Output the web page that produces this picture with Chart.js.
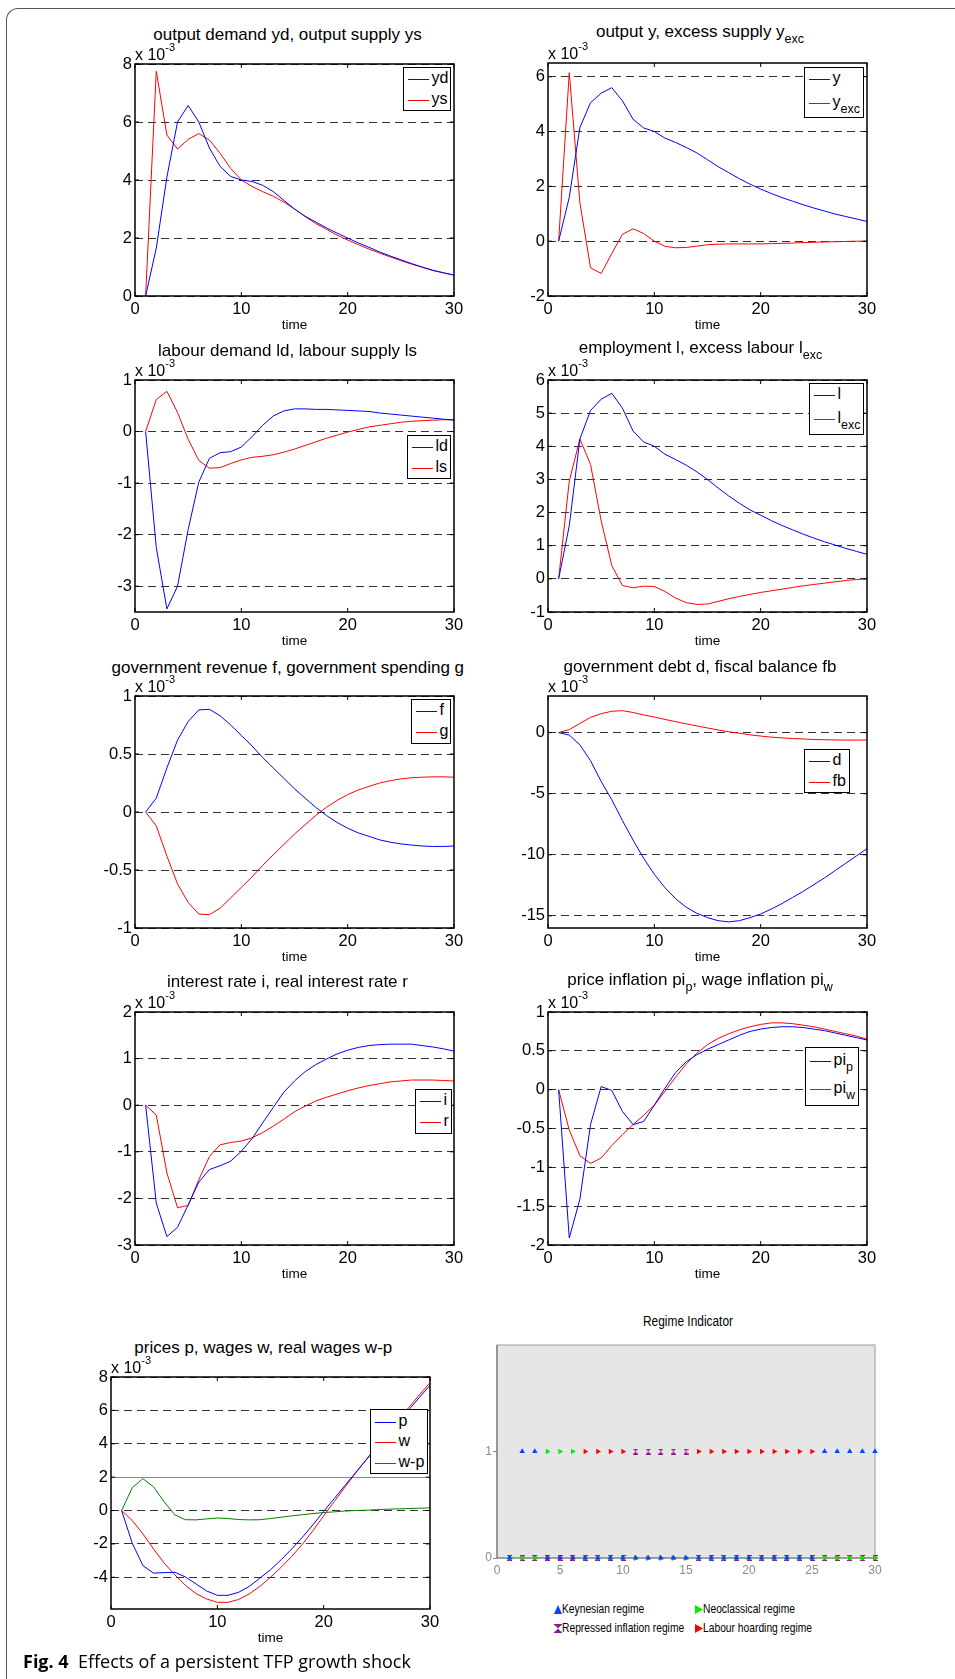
<!DOCTYPE html>
<html><head><meta charset="utf-8">
<script src="https://cdn.jsdelivr.net/npm/chart.js@4.4.0/dist/chart.umd.min.js"></script>
<style>
html,body{margin:0;padding:0;background:#fff;}
body{width:955px;height:1679px;position:relative;overflow:hidden;font-family:"Liberation Sans",Arial,Helvetica,sans-serif;color:#000;}
.frame{position:absolute;left:6px;top:8px;width:1200px;height:2000px;border-left:1.5px solid #555;border-top:1.5px solid #555;border-top-left-radius:12px;}
.t{position:absolute;white-space:nowrap;}
.t sub{font-size:12.5px;vertical-align:-6px;line-height:0;}
.t sup{font-size:11px;vertical-align:9px;line-height:0;}
.lg{position:absolute;background:#fff;border:1.5px solid #000;box-sizing:border-box;}
.sw{position:absolute;height:0;border-top:1px solid;}
canvas{position:absolute;}
.nw{display:inline-block;transform:scaleX(0.79);transform-origin:0 50%;}
.nt{display:inline-block;transform:scaleX(0.85);transform-origin:50% 50%;}
.cap{font-family:"Open Sans","Noto Sans",sans-serif;}
</style>
</head><body>
<div class="frame"></div>
<script>
// ---------------- DATA (values in units of 10^-3) ----------------
const time = [1,2,3,4,5,6,7,8,9,10,11,12,13,14,15,16,17,18,19,20,21,22,23,24,25,26,27,28,29,30];
const xTicks = [0,10,20,30];

const yd = [0,1.65,4.1,6.0,6.57,6.0,5.1,4.47,4.12,4.0,3.95,3.82,3.6,3.3,3.0,2.75,2.55,2.35,2.17,2.0,1.83,1.68,1.52,1.38,1.25,1.12,1.0,0.89,0.8,0.72];
const ys = [0,7.75,5.55,5.07,5.4,5.6,5.38,4.92,4.4,4.0,3.78,3.6,3.44,3.24,3.0,2.74,2.5,2.3,2.1,1.93,1.77,1.62,1.48,1.35,1.22,1.1,0.99,0.88,0.8,0.72];

const yOut = [0,1.6,4.15,5.05,5.4,5.6,5.12,4.45,4.13,4.0,3.76,3.6,3.42,3.22,2.97,2.72,2.5,2.28,2.08,1.9,1.74,1.59,1.46,1.33,1.21,1.1,0.99,0.9,0.81,0.72];
const yExc = [0,6.15,1.4,-0.97,-1.18,-0.45,0.25,0.45,0.28,0.0,-0.19,-0.24,-0.23,-0.18,-0.13,-0.11,-0.1,-0.1,-0.1,-0.1,-0.09,-0.08,-0.07,-0.05,-0.04,-0.03,-0.02,-0.01,0,0];

const ld = [0,-2.25,-3.44,-3.0,-1.9,-0.98,-0.52,-0.41,-0.39,-0.3,-0.1,0.12,0.3,0.4,0.44,0.44,0.43,0.43,0.42,0.41,0.4,0.39,0.36,0.34,0.32,0.3,0.28,0.26,0.24,0.22];
const ls = [0,0.62,0.78,0.37,-0.15,-0.56,-0.71,-0.7,-0.62,-0.55,-0.5,-0.48,-0.45,-0.4,-0.34,-0.27,-0.2,-0.13,-0.07,-0.01,0.04,0.09,0.12,0.15,0.18,0.2,0.21,0.22,0.23,0.23];

const lEmp = [0,1.6,4.22,5.08,5.42,5.6,5.15,4.46,4.13,4.0,3.76,3.6,3.43,3.23,3.0,2.74,2.5,2.28,2.08,1.92,1.76,1.61,1.48,1.35,1.23,1.12,1.02,0.92,0.83,0.74];
const lExc = [0,2.95,4.22,3.45,1.75,0.4,-0.2,-0.27,-0.22,-0.23,-0.38,-0.58,-0.72,-0.77,-0.76,-0.68,-0.6,-0.53,-0.47,-0.41,-0.36,-0.31,-0.26,-0.21,-0.17,-0.13,-0.09,-0.05,-0.02,0.0];

const fRev = [0,0.12,0.38,0.62,0.78,0.88,0.885,0.83,0.75,0.66,0.57,0.47,0.38,0.29,0.2,0.12,0.04,-0.03,-0.09,-0.14,-0.18,-0.21,-0.24,-0.26,-0.275,-0.285,-0.293,-0.297,-0.297,-0.293];
const gSpend = [0,-0.12,-0.38,-0.62,-0.78,-0.88,-0.885,-0.83,-0.74,-0.65,-0.56,-0.46,-0.37,-0.28,-0.19,-0.11,-0.03,0.04,0.1,0.15,0.19,0.22,0.25,0.27,0.285,0.295,0.3,0.303,0.303,0.3];

const debt = [0,-0.2,-1.0,-2.3,-4.0,-5.5,-7.2,-8.8,-10.3,-11.6,-12.7,-13.6,-14.3,-14.8,-15.15,-15.4,-15.5,-15.4,-15.15,-14.85,-14.45,-14.0,-13.5,-13.0,-12.45,-11.9,-11.3,-10.7,-10.1,-9.5];
const fb = [0,0.25,0.75,1.25,1.55,1.75,1.8,1.65,1.45,1.28,1.08,0.9,0.72,0.55,0.38,0.22,0.07,-0.05,-0.18,-0.28,-0.37,-0.43,-0.48,-0.52,-0.56,-0.58,-0.6,-0.61,-0.61,-0.61];

const iRate = [0,-2.1,-2.82,-2.62,-2.14,-1.65,-1.38,-1.3,-1.2,-0.99,-0.72,-0.38,-0.05,0.28,0.52,0.72,0.87,0.99,1.1,1.18,1.24,1.28,1.3,1.31,1.31,1.31,1.28,1.25,1.21,1.16];
const rRate = [0,-0.21,-1.45,-2.2,-2.15,-1.6,-1.1,-0.85,-0.8,-0.77,-0.7,-0.59,-0.45,-0.3,-0.14,-0.02,0.09,0.17,0.24,0.31,0.37,0.42,0.46,0.5,0.52,0.54,0.54,0.54,0.53,0.52];

const piP = [0,-1.91,-1.41,-0.45,0.04,-0.01,-0.28,-0.45,-0.41,-0.2,0.02,0.22,0.36,0.45,0.52,0.58,0.64,0.7,0.75,0.78,0.8,0.81,0.81,0.8,0.78,0.76,0.73,0.7,0.67,0.64];
const piW = [0,-0.52,-0.85,-0.95,-0.88,-0.72,-0.58,-0.45,-0.33,-0.2,-0.02,0.16,0.33,0.47,0.58,0.66,0.72,0.77,0.81,0.84,0.86,0.86,0.85,0.83,0.81,0.78,0.75,0.72,0.69,0.65];

const pPrice = [0,-1.96,-3.3,-3.75,-3.72,-3.7,-3.98,-4.4,-4.82,-5.08,-5.08,-4.9,-4.55,-4.05,-3.55,-2.95,-2.3,-1.6,-0.85,-0.05,0.72,1.5,2.27,3.03,3.79,4.54,5.29,6.03,6.77,7.5];
const wWage = [0,-0.6,-1.4,-2.3,-3.15,-3.85,-4.48,-4.98,-5.3,-5.5,-5.5,-5.33,-5.0,-4.55,-4.0,-3.4,-2.75,-2.02,-1.2,-0.32,0.54,1.4,2.24,3.05,3.85,4.63,5.41,6.17,6.92,7.66];
const wReal = [0,1.37,1.91,1.42,0.52,-0.26,-0.55,-0.56,-0.5,-0.45,-0.48,-0.54,-0.56,-0.55,-0.48,-0.4,-0.32,-0.25,-0.18,-0.12,-0.08,-0.03,0,0.02,0.05,0.08,0.1,0.12,0.14,0.16];

// regime indicator (1 = active)
const keynesian    = [0,1,1,0,0,0,0,0,0,0,0,0,0,0,0,0,0,0,0,0,0,0,0,0,0,1,1,1,1,1];
const neoclassical = [0,0,0,1,1,1,0,0,0,0,0,0,0,0,0,0,0,0,0,0,0,0,0,0,0,0,0,0,0,0];
const repressed    = [0,0,0,0,0,0,0,0,0,0,1,1,1,1,1,0,0,0,0,0,0,0,0,0,0,0,0,0,0,0];
const labourHoard  = [0,0,0,0,0,0,1,1,1,1,0,0,0,0,0,1,1,1,1,1,1,1,1,1,1,0,0,0,0,0];
const regimeXTicks = [0,5,10,15,20,25,30];
const regimeYTicks = [0,1];

// ---------------- helpers ----------------
const BLUE='#0000ff', RED='#ff0000', GREEN='#008000';
function text(x, base, html, size, align, cls) {
  const d = document.createElement('div');
  d.className = 't' + (cls ? ' ' + cls : '');
  d.style.fontSize = size + 'px';
  d.style.lineHeight = size + 'px';
  d.style.top = (base - 0.8465 * size) + 'px';
  if (align === 'center') { d.style.left = x + 'px'; d.style.transform = 'translateX(-50%)'; }
  else if (align === 'right') { d.style.right = (955 - x) + 'px'; }
  else d.style.left = x + 'px';
  d.innerHTML = html;
  document.body.appendChild(d);
  return d;
}

const matlabFrame = {
  id: 'matlabFrame',
  afterDraw(chart) {
    const {ctx, chartArea: a, scales} = chart;
    ctx.save();
    ctx.strokeStyle = '#000';
    ctx.lineWidth = 1;
    const ln = (x1,y1,x2,y2)=>{ctx.beginPath();ctx.moveTo(x1,y1);ctx.lineTo(x2,y2);ctx.stroke();};
    scales.x.ticks.forEach(t => { const px = scales.x.getPixelForValue(t.value); ln(px,a.bottom,px,a.bottom-4); ln(px,a.top,px,a.top+4); });
    scales.y.ticks.forEach(t => { const py = scales.y.getPixelForValue(t.value); ln(a.left,py,a.left+4,py); ln(a.right,py,a.right-4,py); });
    ctx.lineWidth = 1.5;
    ctx.strokeRect(a.left, a.top, a.right - a.left, a.bottom - a.top);
    ctx.restore();
  }
};

function panel(p) {
  const PL = 50, PR = 25, PT = 14, PB = 46;
  const [x1, y1, x2, y2] = p.box;
  const c = document.createElement('canvas');
  c.width = (x2 - x1) + PL + PR; c.height = (y2 - y1) + PT + PB;
  c.style.left = (x1 - PL) + 'px'; c.style.top = (y1 - PT) + 'px';
  c.style.width = c.width + 'px'; c.style.height = c.height + 'px';
  document.body.appendChild(c);
  const font = {family: '"Liberation Sans", Arial, sans-serif', size: 16.5};
  new Chart(c, {
    type: 'line',
    data: { datasets: p.series.map(s => ({
      label: s.name, data: time.map((t, i) => ({x: t, y: s.values[i]})),
      borderColor: s.color, backgroundColor: s.color, borderWidth: 1, pointRadius: 0, tension: 0, fill: false
    })) },
    options: {
      responsive: false, animation: false, devicePixelRatio: 1,
      layout: {padding: {top: PT, right: PR, left: 0, bottom: 0}},
      plugins: {legend: {display: false}, tooltip: {enabled: false}, title: {display: false}},
      scales: {
        x: {
          type: 'linear', min: 0, max: 30,
          afterFit: s => { s.height = PB; },
          afterBuildTicks: s => { s.ticks = xTicks.map(v => ({value: v})); },
          grid: {display: false, drawTicks: false},
          border: {display: false},
          ticks: {font, color: '#000', padding: 4, maxRotation: 0, autoSkip: false, callback: v => String(v)},
          title: {display: true, text: 'time', color: '#000', font: {family: font.family, size: 13.5}, padding: {top: 0, bottom: 9}}
        },
        y: {
          type: 'linear', min: p.yMin, max: p.yMax,
          afterFit: s => { s.width = PL; },
          afterBuildTicks: s => { s.ticks = p.yTicks.map(v => ({value: v})); },
          grid: {drawTicks: false, lineWidth: 1,
                 color: ctx => (p.solidY !== undefined && ctx.tick && ctx.tick.value === p.solidY) ? '#8a8a8a' : '#333'},
          border: {display: false,
                   dash: ctx => (p.solidY !== undefined && ctx.tick && ctx.tick.value === p.solidY) ? [] : [8, 5]},
          ticks: {font, color: '#000', padding: 3, autoSkip: false, callback: v => String(v)}
        }
      }
    },
    plugins: [matlabFrame]
  });
  text(p.titleX, p.titleBase, p.title, 17, 'center');
  text(x1, y1 - 3.5, 'x 10<sup>-3</sup>', 16, 'left');
  const L = p.legend, lg = document.createElement('div');
  lg.className = 'lg';
  lg.style.left = L.box[0] + 'px'; lg.style.top = L.box[1] + 'px';
  lg.style.width = (L.box[2] - L.box[0]) + 'px'; lg.style.height = (L.box[3] - L.box[1]) + 'px';
  document.body.appendChild(lg);
  p.series.forEach((s, i) => {
    const sw = document.createElement('div');
    sw.className = 'sw';
    sw.style.left = (L.box[0] + 5) + 'px'; sw.style.width = '21px';
    sw.style.top = (L.ys[i] - 0.5) + 'px'; sw.style.borderTopColor = s.color;
    document.body.appendChild(sw);
    text(L.box[0] + 28.5, L.ys[i] + 5, s.name, 16, 'left');
  });
}

const panels = [
  {box:[135,64,454,296], yMin:0, yMax:8, yTicks:[0,2,4,6,8],
   title:'output demand yd, output supply ys', titleX:287.5, titleBase:40,
   series:[{name:'yd', values:yd, color:BLUE},{name:'ys', values:ys, color:RED}],
   legend:{box:[403,67,451,111], ys:[79,100]}},
  {box:[548,63,867,296], yMin:-2, yMax:6.5, yTicks:[-2,0,2,4,6],
   title:'output y, excess supply y<sub>exc</sub>', titleX:700, titleBase:37.3,
   series:[{name:'y', values:yOut, color:BLUE},{name:'y<sub>exc</sub>', values:yExc, color:RED}],
   legend:{box:[804,67,864,118], ys:[79,103]}},
  {box:[135,380,454,612], yMin:-3.5, yMax:1, yTicks:[-3,-2,-1,0,1],
   title:'labour demand ld, labour supply ls', titleX:287.5, titleBase:356,
   series:[{name:'ld', values:ld, color:BLUE},{name:'ls', values:ls, color:RED}],
   legend:{box:[407,435,451,479], ys:[447,468]}},
  {box:[548,380,867,612], yMin:-1, yMax:6, yTicks:[-1,0,1,2,3,4,5,6],
   title:'employment l, excess labour l<sub>exc</sub>', titleX:700.5, titleBase:353.3,
   series:[{name:'l', values:lEmp, color:BLUE},{name:'l<sub>exc</sub>', values:lExc, color:RED}],
   legend:{box:[809,383,864,435], ys:[395,419]}},
  {box:[135,696,454,928], yMin:-1, yMax:1, yTicks:[-1,-0.5,0,0.5,1],
   title:'government revenue f, government spending g', titleX:287.8, titleBase:673.3,
   series:[{name:'f', values:fRev, color:BLUE},{name:'g', values:gSpend, color:RED}],
   legend:{box:[411,699,451,744], ys:[711,732]}},
  {box:[548,696,867,928], yMin:-16, yMax:3, yTicks:[-15,-10,-5,0],
   title:'government debt d, fiscal balance fb', titleX:700, titleBase:672.7,
   series:[{name:'d', values:debt, color:BLUE},{name:'fb', values:fb, color:RED}],
   legend:{box:[804,749,850,793], ys:[761,782]}},
  {box:[135,1012,454,1245], yMin:-3, yMax:2, yTicks:[-3,-2,-1,0,1,2],
   title:'interest rate i, real interest rate r', titleX:287.5, titleBase:987.5,
   series:[{name:'i', values:iRate, color:BLUE},{name:'r', values:rRate, color:RED}],
   legend:{box:[415,1089,452,1134], ys:[1101,1122]}},
  {box:[548,1012,867,1245], yMin:-2, yMax:1, yTicks:[-2,-1.5,-1,-0.5,0,0.5,1],
   title:'price inflation pi<sub>p</sub>, wage inflation pi<sub>w</sub>', titleX:700, titleBase:985,
   series:[{name:'pi<sub>p</sub>', values:piP, color:BLUE},{name:'pi<sub>w</sub>', values:piW, color:RED}],
   legend:{box:[805,1047,859,1106], ys:[1061,1089]}},
  {box:[111,1377,430,1609], yMin:-5.9, yMax:8, yTicks:[-4,-2,0,2,4,6,8], solidY:2,
   title:'prices p, wages w, real wages w-p', titleX:263.3, titleBase:1353.3,
   series:[{name:'p', values:pPrice, color:BLUE},{name:'w', values:wWage, color:RED},{name:'w-p', values:wReal, color:GREEN}],
   legend:{box:[370,1409,428,1474], ys:[1422,1442,1463]}}
];
panels.forEach(panel);

// ---------------- Regime indicator ----------------
(function(){
  const box = [497,1345,875,1558];
  const PL = 40, PR = 20, PT = 12, PB = 30;
  const c = document.createElement('canvas');
  c.width = (box[2]-box[0]) + PL + PR; c.height = (box[3]-box[1]) + PT + PB;
  c.style.left = (box[0]-PL)+'px'; c.style.top = (box[1]-PT)+'px';
  c.style.width = c.width+'px'; c.style.height = c.height+'px';
  document.body.appendChild(c);
  const hg = document.createElement('canvas'); hg.width = 5; hg.height = 6;
  const hc = hg.getContext('2d'); hc.fillStyle = '#8b1a8b';
  hc.beginPath(); hc.moveTo(0,0); hc.lineTo(5,0); hc.lineTo(0,6); hc.lineTo(5,6); hc.closePath(); hc.fill();
  hc.fillRect(0,0,5,1); hc.fillRect(0,5,5,1);
  const mk = (name, vals, color, style, rot) => ({
    label: name, data: time.map((t,i)=>({x:t, y:vals[i]})), showLine: false,
    pointStyle: style, pointRotation: rot||0, pointRadius: 3.2, borderWidth: 0,
    backgroundColor: color, borderColor: color, clip: false
  });
  const bg = {
    id: 'regimeBg',
    beforeDraw(chart){ const {ctx, chartArea:a} = chart; ctx.save(); ctx.fillStyle='#e6e6e6'; ctx.fillRect(a.left,a.top,a.right-a.left,a.bottom-a.top); ctx.restore(); },
    beforeDatasetsDraw(chart){ const {ctx, chartArea:a} = chart; ctx.save(); ctx.strokeStyle='#a8a8a8'; ctx.lineWidth=1.2; ctx.strokeRect(a.left,a.top,a.right-a.left,a.bottom-a.top);
      ctx.strokeStyle='#777'; ctx.beginPath(); ctx.moveTo(a.left,a.top); ctx.lineTo(a.left,a.bottom); ctx.lineTo(a.right,a.bottom); ctx.stroke(); ctx.restore(); }
  };
  const nfont = {family: '"Liberation Sans",sans-serif', size: 12};
  new Chart(c, {
    type: 'scatter',
    data: { datasets: [
      mk('Keynesian regime', keynesian, '#0044ff', 'triangle', 0),
      mk('Neoclassical regime', neoclassical, '#00ee00', 'triangle', 90),
      mk('Labour hoarding regime', labourHoard, '#ff0000', 'triangle', 90),
      mk('Repressed inflation regime', repressed, '#8b1a8b', hg)
    ]},
    options: {
      responsive: false, animation: false, devicePixelRatio: 1,
      layout: {padding: {top: PT, right: PR, left: 0, bottom: 0}},
      plugins: {legend: {display: false}, tooltip: {enabled: false}},
      scales: {
        x: {type:'linear', min:0, max:30, afterFit: s=>{s.height=PB;},
            afterBuildTicks: s=>{ s.ticks = regimeXTicks.map(v=>({value:v})); },
            grid:{display:false, drawTicks:false}, border:{display:false},
            ticks:{font:nfont, color:'#8a8a8a', padding:5, maxRotation:0, autoSkip:false, callback:v=>String(v)}},
        y: {type:'linear', min:0, max:2, afterFit: s=>{s.width=PL;},
            afterBuildTicks: s=>{ s.ticks = regimeYTicks.map(v=>({value:v})); },
            grid:{drawOnChartArea:false, drawTicks:true, tickLength:4, tickColor:'#8a8a8a', color:'#8a8a8a'}, border:{display:false},
            ticks:{font:nfont, color:'#8a8a8a', padding:1, autoSkip:false, callback:v=>String(v)}}
      }
    },
    plugins: [bg]
  });
  text(688, 1326, '<span class="nt">Regime Indicator</span>', 14, 'center');
  const icon = {
    k: '<svg width="8" height="9" style="vertical-align:-1px"><polygon points="4,0 8,9 0,9" fill="#0044ff"/></svg>',
    n: '<svg width="8" height="9" style="vertical-align:-1px"><polygon points="0,0 8,4.5 0,9" fill="#00ee00"/></svg>',
    r: '<svg width="8" height="9" style="vertical-align:-1px"><polygon points="0,0 8,0 0,9 8,9" fill="#8b1a8b"/><rect x="0" y="0" width="8" height="1.3" fill="#8b1a8b"/><rect x="0" y="7.7" width="8" height="1.3" fill="#8b1a8b"/></svg>',
    l: '<svg width="8" height="9" style="vertical-align:-1px"><polygon points="0,0 8,4.5 0,9" fill="#ff0000"/></svg>'
  };
  text(554, 1613, icon.k + '<span class="nw">Keynesian regime</span>', 13, 'left');
  text(695, 1613, icon.n + '<span class="nw">Neoclassical regime</span>', 13, 'left');
  text(554, 1632, icon.r + '<span class="nw">Repressed inflation regime</span>', 13, 'left');
  text(695, 1632, icon.l + '<span class="nw">Labour hoarding regime</span>', 13, 'left');
})();

// caption
text(23, 1667, '<b>Fig. 4</b>&nbsp;&nbsp;Effects of a persistent TFP growth shock', 18, 'left', 'cap');
</script>
</body></html>
